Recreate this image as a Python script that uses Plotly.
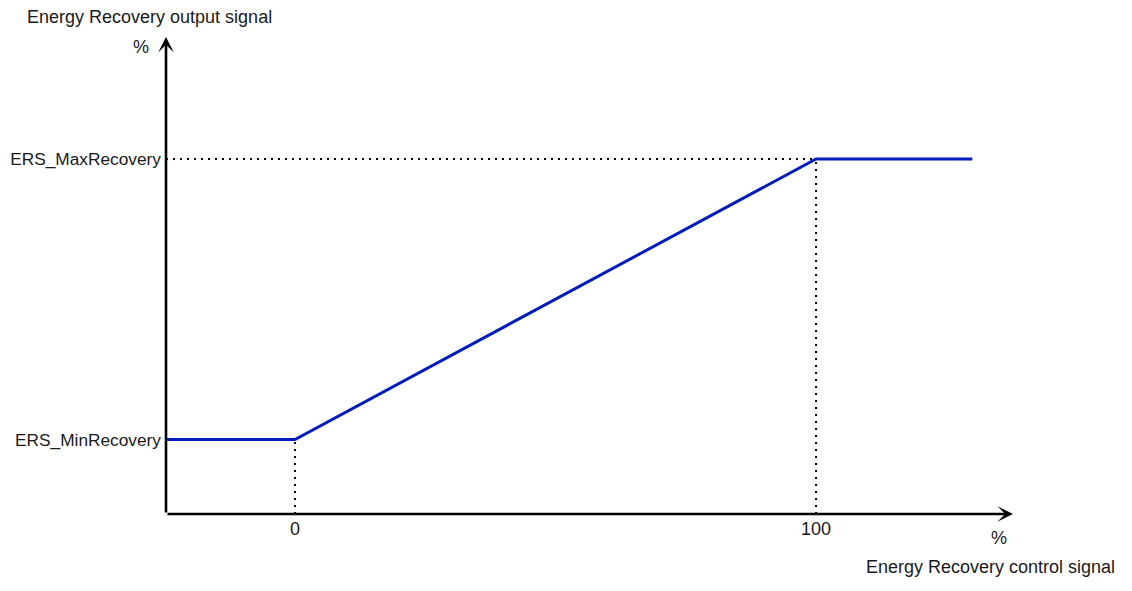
import plotly.graph_objects as go

# Data
control_signal = [-25, 0, 100, 130]
output_signal = [21, 21, 100, 100]
x_tick_vals = [0, 100]
x_tick_text = ["0", "100"]
y_tick_vals = [21, 100]
y_tick_text = ["ERS_MinRecovery", "ERS_MaxRecovery"]

X_MIN, X_MAX = -24.76, 137.8
Y_MIN, Y_MAX = 0, 134.37

FONT = "Liberation Sans, Arial, sans-serif"
TXT = "#1a1a1a"
FS = 18

# page offset from default body margin
OFF = 8
W, H = 1132 - 2 * OFF, 591 - 2 * OFF
L = 166 - OFF
T = 37 - OFF
R = W - (1013 - OFF)
B = H - (514 - OFF)
PW, PH = W - L - R, H - T - B

fig = go.Figure()

fig.add_trace(go.Scatter(
    x=control_signal, y=output_signal, mode="lines",
    line=dict(color="#001DBC", width=3), hoverinfo="skip", showlegend=False,
    cliponaxis=False,
))

dot = dict(color="black", width=2, dash="2px,5px")
fig.add_shape(type="line", x0=X_MIN, x1=control_signal[2], y0=output_signal[2], y1=output_signal[2],
              line=dot, layer="below")
fig.add_shape(type="line", x0=control_signal[1], x1=control_signal[1], y0=Y_MIN, y1=output_signal[1],
              line=dot, layer="below")
fig.add_shape(type="line", x0=control_signal[2], x1=control_signal[2], y0=Y_MIN, y1=output_signal[2],
              line=dot, layer="below")

# axes as arrows
fig.add_annotation(x=X_MAX, y=Y_MIN, ax=X_MIN, ay=Y_MIN, xref="x", yref="y", axref="x", ayref="y",
                   showarrow=True, arrowhead=3, arrowsize=1, arrowwidth=2.6, arrowcolor="black", text="")
fig.add_annotation(x=X_MIN, y=Y_MAX, ax=X_MIN, ay=Y_MIN, xref="x", yref="y", axref="x", ayref="y",
                   showarrow=True, arrowhead=3, arrowsize=1, arrowwidth=2.6, arrowcolor="black", text="")


def px(x):
    return (x - OFF - L) / PW


def py(y):
    return (H - B - (y - OFF)) / PH


texts = [
    ("Energy Recovery output signal", 25, 17, "left"),
    ("%", 141, 47, "center"),
    ("%", 999, 538, "center"),
    ("Energy Recovery control signal", 864, 567, "left"),
]
for t, x, y, anc in texts:
    fig.add_annotation(text=t, x=px(x), y=py(y), xref="paper", yref="paper",
                       xanchor=anc, yanchor="middle", showarrow=False,
                       font=dict(family=FONT, size=FS, color=TXT))

fig.update_layout(
    width=W, height=H,
    margin=dict(l=L, r=R, t=T, b=B),
    paper_bgcolor="white", plot_bgcolor="white",
    xaxis=dict(range=[X_MIN, X_MAX], showgrid=False, zeroline=False, showline=False,
               tickvals=x_tick_vals, ticktext=x_tick_text, ticks="", ticklabelstandoff=2,
               automargin=False,
               tickfont=dict(family=FONT, size=FS, color=TXT), fixedrange=True),
    yaxis=dict(range=[Y_MIN, Y_MAX], showgrid=False, zeroline=False, showline=False,
               tickvals=y_tick_vals, ticktext=y_tick_text, ticks="", ticklabelstandoff=4,
               automargin=False,
               tickfont=dict(family=FONT, size=17.3, color=TXT), fixedrange=True),
    showlegend=False,
)

fig.write_html("out.html")
